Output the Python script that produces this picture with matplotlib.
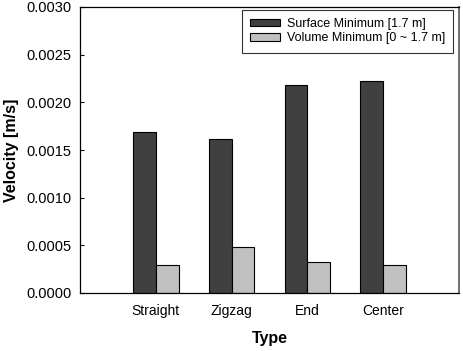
import numpy as np
import matplotlib.pyplot as plt

plt.rcParams['font.family'] = ['Liberation Sans', 'DejaVu Sans']

types = ["Straight", "Zigzag", "End", "Center"]
surface_min = [0.00169, 0.00162, 0.00218, 0.00222]
volume_min = [0.00029, 0.00048, 0.00033, 0.00029]
yticks = [0.0, 0.0005, 0.0010, 0.0015, 0.0020, 0.0025, 0.0030]

fig = plt.figure(figsize=(4.64, 3.51), dpi=100)
ax = fig.add_axes([80 / 464, 1 - 293 / 351, 379 / 464, 286 / 351])

x = np.arange(1, len(types) + 1)
w = 0.30
ax.bar(x - w / 2, surface_min, w, color="#404040", edgecolor="black", lw=0.8,
       label="Surface Minimum [1.7 m]")
ax.bar(x + w / 2, volume_min, w, color="#c0c0c0", edgecolor="black", lw=0.8,
       label="Volume Minimum [0 ~ 1.7 m]")

ax.set_xlim(0, 5)
ax.set_ylim(0, 0.003)
ax.set_xticks(x)
ax.set_xticklabels(types, fontsize=10)
ax.set_yticks(yticks)
ax.set_yticklabels([f"{v:.4f}" for v in yticks], fontsize=10.5)
ax.tick_params(axis="x", length=0, pad=8)
ax.tick_params(axis="y", direction="in", length=3, pad=6)
for s in ax.spines.values():
    s.set_linewidth(0.9)
ax.spines["right"].set_color("#707070")
ax.spines["right"].set_linewidth(1.4)

ax.set_xlabel("Type", fontsize=11.5, fontweight="bold", labelpad=9)
ax.set_ylabel("Velocity [m/s]", fontsize=11.5, fontweight="bold", labelpad=5)

leg = ax.legend(loc="upper right", bbox_to_anchor=(0.984, 0.99), fontsize=9,
                frameon=True, fancybox=False, edgecolor="black",
                handlelength=2.4, handleheight=0.5, handletextpad=0.55,
                borderpad=0.65, labelspacing=0.2, borderaxespad=0)
leg.get_frame().set_linewidth(0.8)

fig.savefig("out.png", dpi=100)
